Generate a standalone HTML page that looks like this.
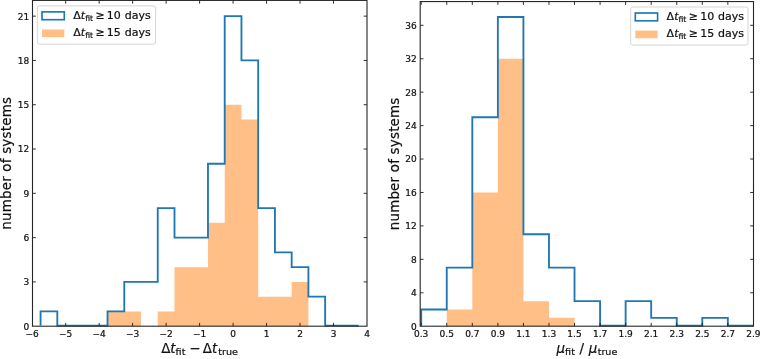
<!DOCTYPE html>
<html><head><meta charset="utf-8"><title>histograms</title>
<style>html,body{margin:0;padding:0;background:#fff}svg{display:block}text{font-family:"DejaVu Sans", "Liberation Sans", sans-serif;fill:#111;stroke:#111;stroke-width:0.22px}</style>
</head><body>
<svg width="760" height="359" viewBox="0 0 760 359">
<rect width="760" height="359" fill="#fff"/>
<g>
<path d="M40.57 326.20 L40.57 326.20 L57.31 326.20 L57.31 326.20 L74.05 326.20 L74.05 326.20 L90.79 326.20 L90.79 326.20 L107.53 326.20 L107.53 311.44 L124.27 311.44 L124.27 311.44 L141.01 311.44 L141.01 326.20 L157.75 326.20 L157.75 311.44 L174.49 311.44 L174.49 267.14 L191.23 267.14 L191.23 267.14 L207.97 267.14 L207.97 222.84 L224.71 222.84 L224.71 104.72 L241.45 104.72 L241.45 119.49 L258.19 119.49 L258.19 296.67 L274.93 296.67 L274.93 296.67 L291.67 296.67 L291.67 281.90 L308.41 281.90 L308.41 326.20 L325.15 326.20 L325.15 326.20 L341.89 326.20 L341.89 326.20 L358.63 326.20 L358.63 326.20Z" fill="#ffbf86"/>
<path d="M40.57 325.60 L40.57 311.44 L57.31 311.44 L57.31 325.60 L74.05 325.60 L74.05 325.60 L90.79 325.60 L90.79 325.60 L107.53 325.60 L107.53 311.44 L124.27 311.44 L124.27 281.90 L141.01 281.90 L141.01 281.90 L157.75 281.90 L157.75 208.08 L174.49 208.08 L174.49 237.61 L191.23 237.61 L191.23 237.61 L207.97 237.61 L207.97 163.78 L224.71 163.78 L224.71 16.13 L241.45 16.13 L241.45 60.43 L258.19 60.43 L258.19 208.08 L274.93 208.08 L274.93 252.38 L291.67 252.38 L291.67 267.14 L308.41 267.14 L308.41 296.67 L325.15 296.67 L325.15 325.60 L341.89 325.60 L341.89 325.60 L358.63 325.60 L358.63 325.60" fill="none" stroke="#1f77b4" stroke-width="1.85" stroke-linejoin="miter"/>
<path d="M65.68 326.2 v-3.3 M65.68 0.4 v3.3 M99.16 326.2 v-3.3 M99.16 0.4 v3.3 M132.64 326.2 v-3.3 M132.64 0.4 v3.3 M166.12 326.2 v-3.3 M166.12 0.4 v3.3 M199.60 326.2 v-3.3 M199.60 0.4 v3.3 M233.08 326.2 v-3.3 M233.08 0.4 v3.3 M266.56 326.2 v-3.3 M266.56 0.4 v3.3 M300.04 326.2 v-3.3 M300.04 0.4 v3.3 M333.52 326.2 v-3.3 M333.52 0.4 v3.3 M32.5 281.90 h3.3 M367.0 281.90 h-3.3 M32.5 237.61 h3.3 M367.0 237.61 h-3.3 M32.5 193.31 h3.3 M367.0 193.31 h-3.3 M32.5 149.02 h3.3 M367.0 149.02 h-3.3 M32.5 104.72 h3.3 M367.0 104.72 h-3.3 M32.5 60.43 h3.3 M367.0 60.43 h-3.3 M32.5 16.13 h3.3 M367.0 16.13 h-3.3" stroke="#1a1a1a" stroke-width="0.9" fill="none"/>
<rect x="32.5" y="0.4" width="334.5" height="325.8" fill="none" stroke="#262626" stroke-width="1.1"/>
<text x="32.20" y="336.80" font-size="9.0" text-anchor="middle">−6</text>
<text x="65.68" y="336.80" font-size="9.0" text-anchor="middle">−5</text>
<text x="99.16" y="336.80" font-size="9.0" text-anchor="middle">−4</text>
<text x="132.64" y="336.80" font-size="9.0" text-anchor="middle">−3</text>
<text x="166.12" y="336.80" font-size="9.0" text-anchor="middle">−2</text>
<text x="199.60" y="336.80" font-size="9.0" text-anchor="middle">−1</text>
<text x="233.08" y="336.80" font-size="9.0" text-anchor="middle">0</text>
<text x="266.56" y="336.80" font-size="9.0" text-anchor="middle">1</text>
<text x="300.04" y="336.80" font-size="9.0" text-anchor="middle">2</text>
<text x="333.52" y="336.80" font-size="9.0" text-anchor="middle">3</text>
<text x="367.00" y="336.80" font-size="9.0" text-anchor="middle">4</text>
<text x="29.20" y="329.65" font-size="9.0" text-anchor="end">0</text>
<text x="29.20" y="285.35" font-size="9.0" text-anchor="end">3</text>
<text x="29.20" y="241.06" font-size="9.0" text-anchor="end">6</text>
<text x="29.20" y="196.76" font-size="9.0" text-anchor="end">9</text>
<text x="29.20" y="152.47" font-size="9.0" text-anchor="end">12</text>
<text x="29.20" y="108.17" font-size="9.0" text-anchor="end">15</text>
<text x="29.20" y="63.88" font-size="9.0" text-anchor="end">18</text>
<text x="29.20" y="19.58" font-size="9.0" text-anchor="end">21</text>
<text transform="translate(11.10 163.30) rotate(-90)" font-size="13.4" text-anchor="middle" letter-spacing="0.22">number of systems</text>
<text x="199.55" y="353.00" font-size="13.4" text-anchor="middle">Δ<tspan font-style="italic">t</tspan><tspan font-size="9.58" dy="2.28">fit</tspan><tspan dy="-2.28" dx="-0.4"> −</tspan><tspan dx="-1.9"> Δ</tspan><tspan font-style="italic">t</tspan><tspan font-size="9.58" dy="2.28" dx="1.0">true</tspan></text>
<rect x="37.4" y="5.9" width="118.2" height="38.3" rx="2.2" fill="#fff" fill-opacity="0.8" stroke="#d0d0d0" stroke-width="0.9"/>
<rect x="42.00" y="11.90" width="22.3" height="7.8" fill="none" stroke="#1f77b4" stroke-width="1.65"/>
<rect x="42.00" y="29.50" width="22.3" height="7.70" fill="#ffbf86"/>
<text x="73.30" y="18.80" font-size="11.0">Δ<tspan font-style="italic">t</tspan><tspan font-size="7.70" dy="1.87">fit</tspan><tspan dy="-1.87" dx="-0.95"> ≥</tspan><tspan dx="-1.4"> 10</tspan><tspan dx="0.3"> days</tspan></text>
<text x="73.30" y="36.00" font-size="11.0">Δ<tspan font-style="italic">t</tspan><tspan font-size="7.70" dy="1.87">fit</tspan><tspan dy="-1.87" dx="-0.95"> ≥</tspan><tspan dx="-1.4"> 15</tspan><tspan dx="0.3"> days</tspan></text>
</g>
<g>
<path d="M421.20 326.20 L421.20 326.20 L446.75 326.20 L446.75 309.48 L472.31 309.48 L472.31 192.47 L497.86 192.47 L497.86 58.74 L523.42 58.74 L523.42 301.13 L548.97 301.13 L548.97 317.84 L574.52 317.84 L574.52 326.20 L600.08 326.20 L600.08 326.20 L625.63 326.20 L625.63 326.20 L651.18 326.20 L651.18 326.20 L676.74 326.20 L676.74 326.20 L702.29 326.20 L702.29 326.20 L727.85 326.20 L727.85 326.20 L753.40 326.20 L753.40 326.20Z" fill="#ffbf86"/>
<path d="M421.20 325.60 L421.20 309.48 L446.75 309.48 L446.75 267.69 L472.31 267.69 L472.31 117.25 L497.86 117.25 L497.86 16.95 L523.42 16.95 L523.42 234.26 L548.97 234.26 L548.97 267.69 L574.52 267.69 L574.52 301.13 L600.08 301.13 L600.08 325.60 L625.63 325.60 L625.63 301.13 L651.18 301.13 L651.18 317.84 L676.74 317.84 L676.74 325.60 L702.29 325.60 L702.29 317.84 L727.85 317.84 L727.85 325.60 L753.40 325.60 L753.40 325.60" fill="none" stroke="#1f77b4" stroke-width="1.85" stroke-linejoin="miter"/>
<path d="M421.20 326.2 v-3.3 M421.20 1.55 v3.3 M446.75 326.2 v-3.3 M446.75 1.55 v3.3 M472.31 326.2 v-3.3 M472.31 1.55 v3.3 M497.86 326.2 v-3.3 M497.86 1.55 v3.3 M523.42 326.2 v-3.3 M523.42 1.55 v3.3 M548.97 326.2 v-3.3 M548.97 1.55 v3.3 M574.52 326.2 v-3.3 M574.52 1.55 v3.3 M600.08 326.2 v-3.3 M600.08 1.55 v3.3 M625.63 326.2 v-3.3 M625.63 1.55 v3.3 M651.18 326.2 v-3.3 M651.18 1.55 v3.3 M676.74 326.2 v-3.3 M676.74 1.55 v3.3 M702.29 326.2 v-3.3 M702.29 1.55 v3.3 M727.85 326.2 v-3.3 M727.85 1.55 v3.3 M420.2 292.77 h3.3 M753.5 292.77 h-3.3 M420.2 259.34 h3.3 M753.5 259.34 h-3.3 M420.2 225.90 h3.3 M753.5 225.90 h-3.3 M420.2 192.47 h3.3 M753.5 192.47 h-3.3 M420.2 159.04 h3.3 M753.5 159.04 h-3.3 M420.2 125.61 h3.3 M753.5 125.61 h-3.3 M420.2 92.18 h3.3 M753.5 92.18 h-3.3 M420.2 58.74 h3.3 M753.5 58.74 h-3.3 M420.2 25.31 h3.3 M753.5 25.31 h-3.3" stroke="#1a1a1a" stroke-width="0.9" fill="none"/>
<rect x="420.2" y="1.55" width="333.3" height="324.65" fill="none" stroke="#262626" stroke-width="1.1"/>
<text x="421.20" y="336.80" font-size="9.0" text-anchor="middle">0.3</text>
<text x="446.75" y="336.80" font-size="9.0" text-anchor="middle">0.5</text>
<text x="472.31" y="336.80" font-size="9.0" text-anchor="middle">0.7</text>
<text x="497.86" y="336.80" font-size="9.0" text-anchor="middle">0.9</text>
<text x="523.42" y="336.80" font-size="9.0" text-anchor="middle">1.1</text>
<text x="548.97" y="336.80" font-size="9.0" text-anchor="middle">1.3</text>
<text x="574.52" y="336.80" font-size="9.0" text-anchor="middle">1.5</text>
<text x="600.08" y="336.80" font-size="9.0" text-anchor="middle">1.7</text>
<text x="625.63" y="336.80" font-size="9.0" text-anchor="middle">1.9</text>
<text x="651.18" y="336.80" font-size="9.0" text-anchor="middle">2.1</text>
<text x="676.74" y="336.80" font-size="9.0" text-anchor="middle">2.3</text>
<text x="702.29" y="336.80" font-size="9.0" text-anchor="middle">2.5</text>
<text x="727.85" y="336.80" font-size="9.0" text-anchor="middle">2.7</text>
<text x="753.40" y="336.80" font-size="9.0" text-anchor="middle">2.9</text>
<text x="416.80" y="329.60" font-size="9.0" text-anchor="end">0</text>
<text x="416.80" y="296.17" font-size="9.0" text-anchor="end">4</text>
<text x="416.80" y="262.74" font-size="9.0" text-anchor="end">8</text>
<text x="416.80" y="229.30" font-size="9.0" text-anchor="end">12</text>
<text x="416.80" y="195.87" font-size="9.0" text-anchor="end">16</text>
<text x="416.80" y="162.44" font-size="9.0" text-anchor="end">20</text>
<text x="416.80" y="129.01" font-size="9.0" text-anchor="end">24</text>
<text x="416.80" y="95.58" font-size="9.0" text-anchor="end">28</text>
<text x="416.80" y="62.14" font-size="9.0" text-anchor="end">32</text>
<text x="416.80" y="28.71" font-size="9.0" text-anchor="end">36</text>
<text transform="translate(398.60 163.88) rotate(-90)" font-size="13.4" text-anchor="middle" letter-spacing="0.22">number of systems</text>
<text x="586.95" y="353.00" font-size="13.4" text-anchor="middle"><tspan font-style="italic">μ</tspan><tspan font-size="9.58" dy="2.28">fit</tspan><tspan dy="-2.28" dx="0.36"> /</tspan><tspan dx="0.5"> </tspan><tspan font-style="italic">μ</tspan><tspan font-size="9.58" dy="2.28" dx="0.3">true</tspan></text>
<rect x="630.7" y="7.0" width="117.3" height="38.1" rx="2.2" fill="#fff" fill-opacity="0.8" stroke="#d0d0d0" stroke-width="0.9"/>
<rect x="635.30" y="13.00" width="22.3" height="7.8" fill="none" stroke="#1f77b4" stroke-width="1.65"/>
<rect x="635.30" y="30.60" width="22.3" height="7.70" fill="#ffbf86"/>
<text x="666.60" y="19.90" font-size="11.0">Δ<tspan font-style="italic">t</tspan><tspan font-size="7.70" dy="1.87">fit</tspan><tspan dy="-1.87" dx="-0.95"> ≥</tspan><tspan dx="-1.4"> 10</tspan><tspan dx="0.3"> days</tspan></text>
<text x="666.60" y="37.10" font-size="11.0">Δ<tspan font-style="italic">t</tspan><tspan font-size="7.70" dy="1.87">fit</tspan><tspan dy="-1.87" dx="-0.95"> ≥</tspan><tspan dx="-1.4"> 15</tspan><tspan dx="0.3"> days</tspan></text>
</g>
</svg>
</body></html>
